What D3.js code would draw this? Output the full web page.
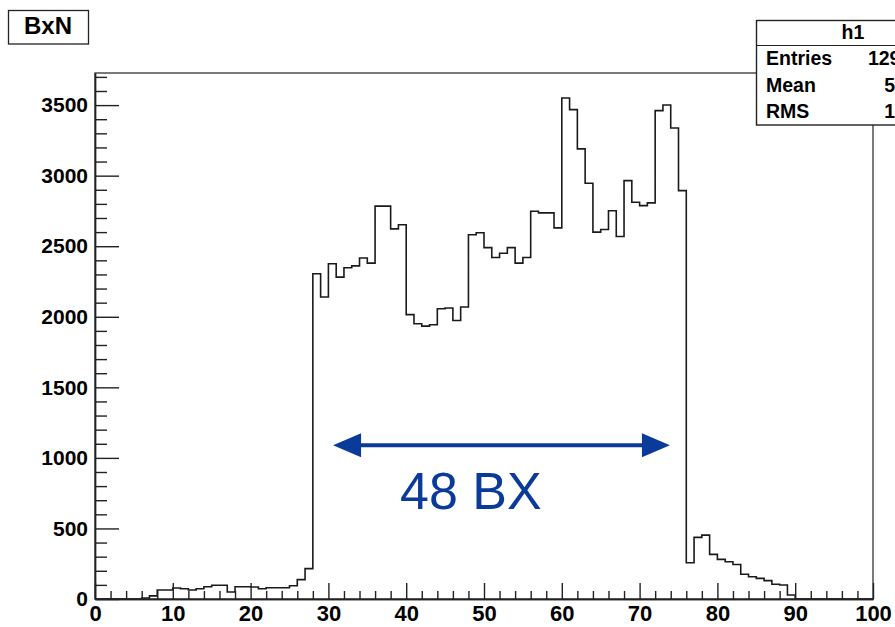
<!DOCTYPE html>
<html>
<head>
<meta charset="utf-8">
<script src="https://cdn.jsdelivr.net/npm/d3@7"></script>
<style>
  html, body { margin: 0; padding: 0; background: #fff; }
  svg { display: block; }
  text { font-family: "Liberation Sans", Arial, sans-serif; }
</style>
</head>
<body>
<svg id="chart" width="895" height="627"></svg>
<script>
// ---- data (bin i covers [i, i+1]) ----
const binEdgesStart = 0;
const binWidth = 1;
const counts = [
  0, 0, 0, 0, 0, 0, 7, 22, 64, 64,            // 0-9
  78, 73, 64, 73, 87, 97, 97, 50, 87, 87,     // 10-19
  85, 73, 80, 80, 80, 94, 137, 215, 2305, 2140, // 20-29
  2376, 2281, 2347, 2361, 2416, 2380, 2784, 2784, 2623, 2652, // 30-39
  2015, 1951, 1934, 1944, 2057, 2062, 1974, 2069, 2581, 2595, // 40-49
  2490, 2420, 2450, 2490, 2380, 2420, 2748, 2736, 2736, 2630, // 50-59
  3550, 3468, 3190, 2946, 2600, 2618, 2751, 2569, 2965, 2812, // 60-69
  2788, 2807, 3461, 3501, 3338, 2894, 257, 437, 453, 316,     // 70-79
  281, 264, 245, 175, 158, 146, 130, 104, 99, 28,             // 80-89
  0, 0, 0, 0, 0, 0, 0, 0, 0, 0                                // 90-99
];
const xMajorTicks = [0, 10, 20, 30, 40, 50, 60, 70, 80, 90, 100];
const yMajorTicks = [0, 500, 1000, 1500, 2000, 2500, 3000, 3500];
const titleText = "BxN";
const statsTitle = "h1";
const statsLabels = ["Entries", "Mean", "RMS"];
const annotationText = "48 BX";
const arrowSpan = [30.6, 73.9];   // in x units
const arrowLevel = 1090;          // in y units
const annotationPos = [39.2, 640];

// ---- layout ----
const L = 95, R = 873, T = 73, B = 599;
const svg = d3.select("#chart");

const x = d3.scaleLinear().domain([0, 100]).range([L, R]);
const yMax = d3.max(counts) * 1.05;
const y = d3.scaleLinear().domain([0, yMax]).range([B, T]);

// frame
svg.append("rect")
  .attr("x", L).attr("y", T).attr("width", R - L).attr("height", B - T)
  .attr("fill", "none").attr("stroke", "#222").attr("stroke-width", 1.2);

// histogram step line
const pts = counts.map((c, i) => [binEdgesStart + i * binWidth, c]);
pts.push([binEdgesStart + counts.length * binWidth, counts[counts.length - 1]]);
const line = d3.line().x(d => x(d[0])).y(d => y(d[1])).curve(d3.curveStepAfter);
svg.append("path")
  .attr("d", line(pts))
  .attr("fill", "none").attr("stroke", "#1a1a1a").attr("stroke-width", 1.6);

// axes
const yFont = "bold 21px 'Liberation Sans', Arial, sans-serif";
const xFont = "bold 22px 'Liberation Sans', Arial, sans-serif";
const statFont = "bold 19.5px 'Liberation Sans', Arial, sans-serif";
const yMinor = d3.range(0, yMax, 100).filter(v => v % 500 !== 0);
const xMinor = d3.range(0, 101, 2).filter(v => v % 10 !== 0);

const yAxisMinor = svg.append("g").attr("transform", `translate(${L},0)`)
  .call(d3.axisLeft(y).tickValues(yMinor).tickSizeInner(-12).tickSizeOuter(0).tickFormat(""));
const yAxis = svg.append("g").attr("transform", `translate(${L},0)`)
  .call(d3.axisLeft(y).tickValues(yMajorTicks).tickSizeInner(-24).tickSizeOuter(0)
    .tickPadding(7).tickFormat(d3.format("d")));
const xAxisMinor = svg.append("g").attr("transform", `translate(0,${B})`)
  .call(d3.axisBottom(x).tickValues(xMinor).tickSizeInner(-8).tickSizeOuter(0).tickFormat(""));
const xAxis = svg.append("g").attr("transform", `translate(0,${B})`)
  .call(d3.axisBottom(x).tickValues(xMajorTicks).tickSizeInner(-16).tickSizeOuter(0)
    .tickPadding(6).tickFormat(d3.format("d")));

[yAxisMinor, yAxis, xAxisMinor, xAxis].forEach(g => {
  g.selectAll("line").attr("stroke", "#222").attr("stroke-width", 1.4);
  g.select(".domain").attr("stroke", "#222").attr("stroke-width", 1.4);
  g.selectAll("text").attr("fill", "#000");
});
yAxis.selectAll("text").style("font", yFont);
xAxis.selectAll("text").style("font", xFont);

// title box
svg.append("rect").attr("x", 8.5).attr("y", 10.5).attr("width", 80).attr("height", 33.5)
  .attr("fill", "#fff").attr("stroke", "#222").attr("stroke-width", 1.3);
svg.append("text").attr("x", 48).attr("y", 33.5).attr("text-anchor", "middle")
  .style("font", "bold 24px 'Liberation Sans', Arial, sans-serif").text(titleText);

// stats box
const entries = d3.sum(counts);
const centers = counts.map((c, i) => binEdgesStart + (i + 0.5) * binWidth);
const mean = d3.sum(counts, (c, i) => c * centers[i]) / entries;
const rms = Math.sqrt(d3.sum(counts, (c, i) => c * (centers[i] - mean) ** 2) / entries);
const statsValues = [String(entries), mean.toFixed(2), rms.toFixed(2)];

const sb = svg.append("g");
sb.append("rect").attr("x", 756.5).attr("y", 20.5).attr("width", 192).attr("height", 104.5)
  .attr("fill", "#fff").attr("stroke", "#222").attr("stroke-width", 1.4);
sb.append("line").attr("x1", 756.5).attr("x2", 948.5).attr("y1", 45.5).attr("y2", 45.5)
  .attr("stroke", "#222").attr("stroke-width", 1.2);
sb.append("text").attr("x", 853).attr("y", 38.5).attr("text-anchor", "middle")
  .style("font", statFont).text(statsTitle);
statsLabels.forEach((lab, i) => {
  const by = 65 + i * 26.7;
  sb.append("text").attr("x", 766).attr("y", by).style("font", statFont).text(lab);
  sb.append("text").attr("x", 933).attr("y", by).attr("text-anchor", "end")
    .style("font", statFont).text(statsValues[i]);
});

// annotation arrow
const blue = "#0a3a9a";
const ax1 = x(arrowSpan[0]), ax2 = x(arrowSpan[1]), ay = y(arrowLevel);
const headL = 28, headH = 12;
svg.append("line").attr("x1", ax1 + headL - 2).attr("x2", ax2 - headL + 2)
  .attr("y1", ay).attr("y2", ay).attr("stroke", blue).attr("stroke-width", 4);
svg.append("path")
  .attr("d", `M${ax1},${ay} L${ax1 + headL},${ay - headH} L${ax1 + headL},${ay + headH} Z`)
  .attr("fill", blue);
svg.append("path")
  .attr("d", `M${ax2},${ay} L${ax2 - headL},${ay - headH} L${ax2 - headL},${ay + headH} Z`)
  .attr("fill", blue);
svg.append("text").attr("x", x(annotationPos[0])).attr("y", y(annotationPos[1]))
  .attr("fill", blue)
  .style("font", "52px 'Liberation Sans', Arial, sans-serif").text(annotationText);
</script>
</body>
</html>
